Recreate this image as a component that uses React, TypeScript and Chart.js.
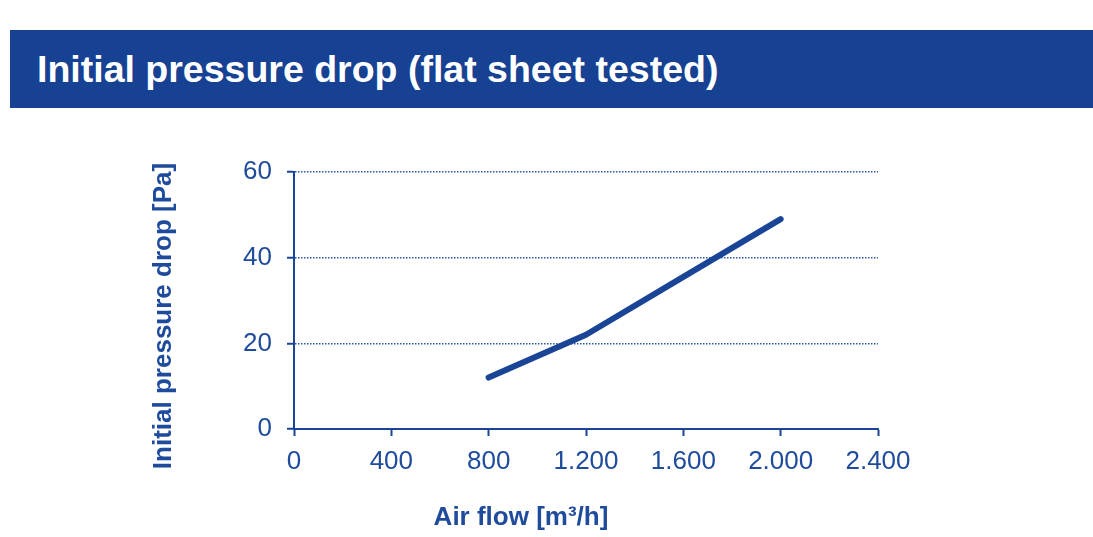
import React, { useEffect, useRef } from "react";
import { Chart, registerables } from "chart.js";

Chart.register(...registerables);

const titleText = "Initial pressure drop (flat sheet tested)";
const xAxisTitle = "Air flow [m³/h]";
const yAxisTitle = "Initial pressure drop [Pa]";
const airFlow = [800, 1200, 1600, 2000];
const pressureDrop = [12, 22, 35.5, 49];
const xTickLabels = ["0", "400", "800", "1.200", "1.600", "2.000", "2.400"];
const yTickLabels = ["0", "20", "40", "60"];

const BLUE = "#1a4597";
const TEXT = "#1f4b9c";
const FONT = "'Liberation Sans', Arial, sans-serif";

export default function App() {
  const ref = useRef<HTMLCanvasElement | null>(null);

  useEffect(() => {
    if (!ref.current) return;
    const axisTitles = {
      id: "axisTitles",
      afterDraw(chart: any) {
        const ctx = chart.ctx;
        ctx.save();
        ctx.fillStyle = TEXT;
        ctx.font = `bold 26px ${FONT}`;
        ctx.textAlign = "center";
        ctx.textBaseline = "alphabetic";
        ctx.fillText(xAxisTitle, 521, 525);
        ctx.translate(171, 316);
        ctx.rotate(-Math.PI / 2);
        ctx.fillText(yAxisTitle, 0, 0);
        ctx.restore();
      },
    };
    const chart = new Chart(ref.current, {
      type: "line",
      data: {
        datasets: [
          {
            data: airFlow.map((x, i) => ({ x, y: pressureDrop[i] })),
            borderColor: BLUE,
            borderWidth: 6,
            borderCapStyle: "round",
            borderJoinStyle: "round",
            pointRadius: 0,
            tension: 0,
            fill: false,
          },
        ],
      },
      options: {
        animation: false,
        responsive: false,
        devicePixelRatio: 1,
        layout: { padding: { left: 0, right: 215, top: 172, bottom: 48 } },
        plugins: { legend: { display: false }, tooltip: { enabled: false }, title: { display: false } },
        scales: {
          x: {
            type: "linear",
            min: 0,
            max: 2400,
            afterFit(scale: any) {
              scale.height = 60;
            },
            ticks: {
              stepSize: 400,
              padding: 10,
              color: TEXT,
              font: { family: FONT, size: 26 },
              maxRotation: 0,
              callback: (_v: any, i: number) => xTickLabels[i],
            },
            grid: {
              drawOnChartArea: false,
              drawTicks: true,
              tickLength: 7,
              tickColor: BLUE,
              tickWidth: 2,
              color: BLUE,
            },
            border: { display: true, color: BLUE, width: 2 },
          },
          y: {
            type: "linear",
            min: 0,
            max: 60,
            afterFit(scale: any) {
              scale.width = 294;
            },
            ticks: {
              stepSize: 20,
              padding: 15,
              color: TEXT,
              font: { family: FONT, size: 26 },
              callback: (_v: any, i: number) => yTickLabels[i],
            },
            grid: {
              drawTicks: true,
              tickLength: 7,
              tickColor: BLUE,
              tickWidth: 2,
              tickBorderDash: [],
              lineWidth: 1.5,
              color: (c: any) => (c.tick && c.tick.value === 0 ? "rgba(0,0,0,0)" : "#2b56a6"),
            },
            border: { display: true, color: BLUE, width: 2, dash: [1.5, 1.5] },
          },
        },
      },
      plugins: [axisTitles],
    } as any);
    return () => chart.destroy();
  }, []);

  return (
    <div style={{ position: "fixed", left: 0, top: 0, width: 1093, height: 537, background: "#fff" }}>
      <canvas ref={ref} width={1093} height={537} style={{ position: "absolute", left: 0, top: 0 }} />
      <div
        style={{
          position: "absolute",
          left: 10,
          top: 30,
          width: 1083,
          height: 78,
          background: "#174193",
        }}
      >
        <span
          style={{
            position: "absolute",
            left: 27,
            top: 18,
            color: "#fff",
            fontFamily: FONT,
            fontWeight: "bold",
            fontSize: 37.5,
            lineHeight: "normal",
            whiteSpace: "nowrap",
          }}
        >
          {titleText}
        </span>
      </div>
    </div>
  );
}
